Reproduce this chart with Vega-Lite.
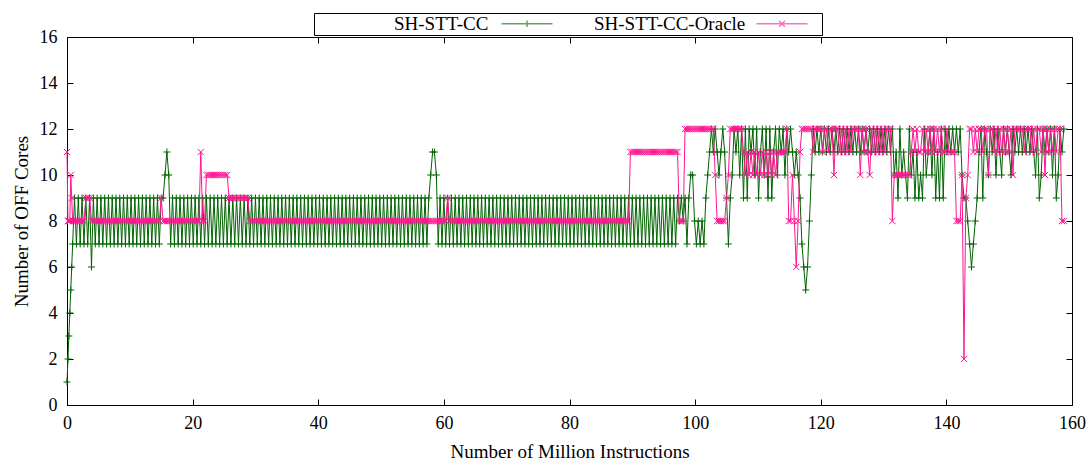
{
"$schema":"https://vega.github.io/schema/vega-lite/v6.json",
"width":1005,"height":368,
"autosize":{"type":"none"},
"padding":{"left":67,"top":37,"right":17,"bottom":56},
"config":{
 "view":{"stroke":"#000","strokeWidth":1},
 "font":"Liberation Serif",
 "axis":{"domain":false,"grid":false,"tickColor":"#000","tickSize":-6,"tickWidth":1,"labelColor":"#000","labelFont":"Liberation Serif","labelFontSize":18,"titleFont":"Liberation Serif","titleFontSize":19,"titleFontWeight":"normal","titleColor":"#000","labelFlush":false,"labelOverlap":false}
},
"data":{"values":[
{"x":0,"g":1,"p":11},{"x":0.15,"g":2,"p":8},{"x":0.3,"g":3,"p":8},{"x":0.45,"g":4,"p":8},{"x":0.6,"g":5,"p":10},{"x":0.75,"g":6,"p":9},{"x":0.9,"g":7,"p":8},{"x":1.05,"g":8,"p":8},{"x":1.2,"g":9,"p":8},{"x":1.5,"g":7,"p":8},{"x":1.8,"g":9,"p":8},{"x":2.1,"g":7,"p":8},{"x":2.4,"g":9,"p":8},{"x":2.7,"g":7,"p":8},
{"x":3,"g":9,"p":9},{"x":3.3,"g":7,"p":9},{"x":3.6,"g":9,"p":9},{"x":3.9,"g":6,"p":8},{"x":4.2,"g":9,"p":8},{"x":4.5,"g":7,"p":8},{"x":4.8,"g":9,"p":8},{"x":5.1,"g":7,"p":8},{"x":5.4,"g":9,"p":8},{"x":5.7,"g":7,"p":8},
{"x":6,"g":9,"p":8},{"x":6.3,"g":7,"p":8},{"x":6.6,"g":9,"p":8},{"x":6.9,"g":7,"p":8},{"x":7.2,"g":9,"p":8},{"x":7.5,"g":7,"p":8},{"x":7.8,"g":9,"p":8},{"x":8.1,"g":7,"p":8},{"x":8.4,"g":9,"p":8},{"x":8.7,"g":7,"p":8},
{"x":9,"g":9,"p":8},{"x":9.3,"g":7,"p":8},{"x":9.6,"g":9,"p":8},{"x":9.9,"g":7,"p":8},{"x":10.2,"g":9,"p":8},{"x":10.5,"g":7,"p":8},{"x":10.8,"g":9,"p":8},{"x":11.1,"g":7,"p":8},{"x":11.4,"g":9,"p":8},{"x":11.7,"g":7,"p":8},
{"x":12,"g":9,"p":8},{"x":12.3,"g":7,"p":8},{"x":12.6,"g":9,"p":8},{"x":12.9,"g":7,"p":8},{"x":13.2,"g":9,"p":8},{"x":13.5,"g":7,"p":8},{"x":13.8,"g":9,"p":8},{"x":14.1,"g":7,"p":8},{"x":14.4,"g":9,"p":8},{"x":14.7,"g":7,"p":8},
{"x":15,"g":9,"p":9},{"x":15.3,"g":9,"p":8},{"x":15.6,"g":10,"p":8},{"x":15.9,"g":11,"p":8},{"x":16.2,"g":10,"p":8},{"x":16.5,"g":7,"p":8},{"x":16.8,"g":9,"p":8},{"x":17.1,"g":7,"p":8},{"x":17.4,"g":9,"p":8},{"x":17.7,"g":7,"p":8},
{"x":18,"g":9,"p":8},{"x":18.3,"g":7,"p":8},{"x":18.6,"g":9,"p":8},{"x":18.9,"g":7,"p":8},{"x":19.2,"g":9,"p":8},{"x":19.5,"g":7,"p":8},{"x":19.8,"g":9,"p":8},{"x":20.1,"g":7,"p":8},{"x":20.4,"g":9,"p":8},{"x":20.7,"g":7,"p":8},
{"x":21,"g":9,"p":8},{"x":21.3,"g":7,"p":11},{"x":21.6,"g":9,"p":8},{"x":21.9,"g":7,"p":8},{"x":22.2,"g":9,"p":10},{"x":22.5,"g":7,"p":10},{"x":22.8,"g":9,"p":10},{"x":23.1,"g":7,"p":10},{"x":23.4,"g":9,"p":10},{"x":23.7,"g":7,"p":10},
{"x":24,"g":9,"p":10},{"x":24.3,"g":7,"p":10},{"x":24.6,"g":9,"p":10},{"x":24.9,"g":7,"p":10},{"x":25.2,"g":9,"p":10},{"x":25.5,"g":7,"p":10},{"x":25.8,"g":9,"p":9},{"x":26.1,"g":7,"p":9},{"x":26.4,"g":9,"p":9},{"x":26.7,"g":7,"p":9},
{"x":27,"g":9,"p":9},{"x":27.3,"g":7,"p":9},{"x":27.6,"g":9,"p":9},{"x":27.9,"g":7,"p":9},{"x":28.2,"g":9,"p":9},{"x":28.5,"g":7,"p":9},{"x":28.8,"g":9,"p":9},{"x":29.1,"g":7,"p":8},{"x":29.4,"g":9,"p":8},{"x":29.7,"g":7,"p":8},
{"x":30,"g":9,"p":8},{"x":30.3,"g":7,"p":8},{"x":30.6,"g":9,"p":8},{"x":30.9,"g":7,"p":8},{"x":31.2,"g":9,"p":8},{"x":31.5,"g":7,"p":8},{"x":31.8,"g":9,"p":8},{"x":32.1,"g":7,"p":8},{"x":32.4,"g":9,"p":8},{"x":32.7,"g":7,"p":8},
{"x":33,"g":9,"p":8},{"x":33.3,"g":7,"p":8},{"x":33.6,"g":9,"p":8},{"x":33.9,"g":7,"p":8},{"x":34.2,"g":9,"p":8},{"x":34.5,"g":7,"p":8},{"x":34.8,"g":9,"p":8},{"x":35.1,"g":7,"p":8},{"x":35.4,"g":9,"p":8},{"x":35.7,"g":7,"p":8},
{"x":36,"g":9,"p":8},{"x":36.3,"g":7,"p":8},{"x":36.6,"g":9,"p":8},{"x":36.9,"g":7,"p":8},{"x":37.2,"g":9,"p":8},{"x":37.5,"g":7,"p":8},{"x":37.8,"g":9,"p":8},{"x":38.1,"g":7,"p":8},{"x":38.4,"g":9,"p":8},{"x":38.7,"g":7,"p":8},
{"x":39,"g":9,"p":8},{"x":39.3,"g":7,"p":8},{"x":39.6,"g":9,"p":8},{"x":39.9,"g":7,"p":8},{"x":40.2,"g":9,"p":8},{"x":40.5,"g":7,"p":8},{"x":40.8,"g":9,"p":8},{"x":41.1,"g":7,"p":8},{"x":41.4,"g":9,"p":8},{"x":41.7,"g":7,"p":8},
{"x":42,"g":9,"p":8},{"x":42.3,"g":7,"p":8},{"x":42.6,"g":9,"p":8},{"x":42.9,"g":7,"p":8},{"x":43.2,"g":9,"p":8},{"x":43.5,"g":7,"p":8},{"x":43.8,"g":9,"p":8},{"x":44.1,"g":7,"p":8},{"x":44.4,"g":9,"p":8},{"x":44.7,"g":7,"p":8},
{"x":45,"g":9,"p":8},{"x":45.3,"g":7,"p":8},{"x":45.6,"g":9,"p":8},{"x":45.9,"g":7,"p":8},{"x":46.2,"g":9,"p":8},{"x":46.5,"g":7,"p":8},{"x":46.8,"g":9,"p":8},{"x":47.1,"g":7,"p":8},{"x":47.4,"g":9,"p":8},{"x":47.7,"g":7,"p":8},
{"x":48,"g":9,"p":8},{"x":48.3,"g":7,"p":8},{"x":48.6,"g":9,"p":8},{"x":48.9,"g":7,"p":8},{"x":49.2,"g":9,"p":8},{"x":49.5,"g":7,"p":8},{"x":49.8,"g":9,"p":8},{"x":50.1,"g":7,"p":8},{"x":50.4,"g":9,"p":8},{"x":50.7,"g":7,"p":8},
{"x":51,"g":9,"p":8},{"x":51.3,"g":7,"p":8},{"x":51.6,"g":9,"p":8},{"x":51.9,"g":7,"p":8},{"x":52.2,"g":9,"p":8},{"x":52.5,"g":7,"p":8},{"x":52.8,"g":9,"p":8},{"x":53.1,"g":7,"p":8},{"x":53.4,"g":9,"p":8},{"x":53.7,"g":7,"p":8},
{"x":54,"g":9,"p":8},{"x":54.3,"g":7,"p":8},{"x":54.6,"g":9,"p":8},{"x":54.9,"g":7,"p":8},{"x":55.2,"g":9,"p":8},{"x":55.5,"g":7,"p":8},{"x":55.8,"g":9,"p":8},{"x":56.1,"g":7,"p":8},{"x":56.4,"g":9,"p":8},{"x":56.7,"g":7,"p":8},
{"x":57,"g":9,"p":8},{"x":57.3,"g":7,"p":8},{"x":57.6,"g":9,"p":8},{"x":57.9,"g":10,"p":8},{"x":58.2,"g":11,"p":8},{"x":58.5,"g":11,"p":8},{"x":58.8,"g":10,"p":8},{"x":59.1,"g":7,"p":8},{"x":59.4,"g":9,"p":8},{"x":59.7,"g":7,"p":8},
{"x":60,"g":9,"p":8},{"x":60.3,"g":7,"p":8},{"x":60.6,"g":9,"p":9},{"x":60.9,"g":7,"p":8},{"x":61.2,"g":9,"p":8},{"x":61.5,"g":7,"p":8},{"x":61.8,"g":9,"p":8},{"x":62.1,"g":7,"p":8},{"x":62.4,"g":9,"p":8},{"x":62.7,"g":7,"p":8},
{"x":63,"g":9,"p":8},{"x":63.3,"g":7,"p":8},{"x":63.6,"g":9,"p":8},{"x":63.9,"g":7,"p":8},{"x":64.2,"g":9,"p":8},{"x":64.5,"g":7,"p":8},{"x":64.8,"g":9,"p":8},{"x":65.1,"g":7,"p":8},{"x":65.4,"g":9,"p":8},{"x":65.7,"g":7,"p":8},
{"x":66,"g":9,"p":8},{"x":66.3,"g":7,"p":8},{"x":66.6,"g":9,"p":8},{"x":66.9,"g":7,"p":8},{"x":67.2,"g":9,"p":8},{"x":67.5,"g":7,"p":8},{"x":67.8,"g":9,"p":8},{"x":68.1,"g":7,"p":8},{"x":68.4,"g":9,"p":8},{"x":68.7,"g":7,"p":8},
{"x":69,"g":9,"p":8},{"x":69.3,"g":7,"p":8},{"x":69.6,"g":9,"p":8},{"x":69.9,"g":7,"p":8},{"x":70.2,"g":9,"p":8},{"x":70.5,"g":7,"p":8},{"x":70.8,"g":9,"p":8},{"x":71.1,"g":7,"p":8},{"x":71.4,"g":9,"p":8},{"x":71.7,"g":7,"p":8},
{"x":72,"g":9,"p":8},{"x":72.3,"g":7,"p":8},{"x":72.6,"g":9,"p":8},{"x":72.9,"g":7,"p":8},{"x":73.2,"g":9,"p":8},{"x":73.5,"g":7,"p":8},{"x":73.8,"g":9,"p":8},{"x":74.1,"g":7,"p":8},{"x":74.4,"g":9,"p":8},{"x":74.7,"g":7,"p":8},
{"x":75,"g":9,"p":8},{"x":75.3,"g":7,"p":8},{"x":75.6,"g":9,"p":8},{"x":75.9,"g":7,"p":8},{"x":76.2,"g":9,"p":8},{"x":76.5,"g":7,"p":8},{"x":76.8,"g":9,"p":8},{"x":77.1,"g":7,"p":8},{"x":77.4,"g":9,"p":8},{"x":77.7,"g":7,"p":8},
{"x":78,"g":9,"p":8},{"x":78.3,"g":7,"p":8},{"x":78.6,"g":9,"p":8},{"x":78.9,"g":7,"p":8},{"x":79.2,"g":9,"p":8},{"x":79.5,"g":7,"p":8},{"x":79.8,"g":9,"p":8},{"x":80.1,"g":7,"p":8},{"x":80.4,"g":9,"p":8},{"x":80.7,"g":7,"p":8},
{"x":81,"g":9,"p":8},{"x":81.3,"g":7,"p":8},{"x":81.6,"g":9,"p":8},{"x":81.9,"g":7,"p":8},{"x":82.2,"g":9,"p":8},{"x":82.5,"g":7,"p":8},{"x":82.8,"g":9,"p":8},{"x":83.1,"g":7,"p":8},{"x":83.4,"g":9,"p":8},{"x":83.7,"g":7,"p":8},
{"x":84,"g":9,"p":8},{"x":84.3,"g":7,"p":8},{"x":84.6,"g":9,"p":8},{"x":84.9,"g":7,"p":8},{"x":85.2,"g":9,"p":8},{"x":85.5,"g":7,"p":8},{"x":85.8,"g":9,"p":8},{"x":86.1,"g":7,"p":8},{"x":86.4,"g":9,"p":8},{"x":86.7,"g":7,"p":8},
{"x":87,"g":9,"p":8},{"x":87.3,"g":7,"p":8},{"x":87.6,"g":9,"p":8},{"x":87.9,"g":7,"p":8},{"x":88.2,"g":9,"p":8},{"x":88.5,"g":7,"p":8},{"x":88.8,"g":9,"p":8},{"x":89.1,"g":7,"p":8},{"x":89.4,"g":9,"p":8},{"x":89.7,"g":7,"p":11},
{"x":90,"g":9,"p":11},{"x":90.3,"g":7,"p":11},{"x":90.6,"g":9,"p":11},{"x":90.9,"g":7,"p":11},{"x":91.2,"g":9,"p":11},{"x":91.5,"g":7,"p":11},{"x":91.8,"g":9,"p":11},{"x":92.1,"g":7,"p":11},{"x":92.4,"g":9,"p":11},{"x":92.7,"g":7,"p":11},
{"x":93,"g":9,"p":11},{"x":93.3,"g":7,"p":11},{"x":93.6,"g":9,"p":11},{"x":93.9,"g":7,"p":11},{"x":94.2,"g":9,"p":11},{"x":94.5,"g":7,"p":11},{"x":94.8,"g":9,"p":11},{"x":95.1,"g":7,"p":11},{"x":95.4,"g":9,"p":11},{"x":95.7,"g":7,"p":11},
{"x":96,"g":9,"p":11},{"x":96.3,"g":7,"p":11},{"x":96.6,"g":9,"p":11},{"x":96.9,"g":7,"p":11},{"x":97.2,"g":9,"p":11},{"x":97.5,"g":8,"p":8},{"x":97.8,"g":9,"p":8},{"x":98.1,"g":8,"p":8},{"x":98.4,"g":9,"p":12},{"x":98.7,"g":7,"p":12},
{"x":99,"g":9,"p":12},{"x":99.3,"g":10,"p":12},{"x":99.6,"g":10,"p":12},{"x":99.9,"g":8,"p":12},{"x":100.2,"g":7,"p":12},{"x":100.5,"g":8,"p":12},{"x":100.8,"g":7,"p":12},{"x":101.1,"g":8,"p":12},{"x":101.4,"g":7,"p":12},{"x":101.7,"g":9,"p":12},
{"x":102,"g":10,"p":12},{"x":102.3,"g":11,"p":12},{"x":102.6,"g":12,"p":12},{"x":102.9,"g":11,"p":12},{"x":103.2,"g":12,"p":10},{"x":103.5,"g":11,"p":8},{"x":103.8,"g":10,"p":8},{"x":104.1,"g":11,"p":8},{"x":104.4,"g":12,"p":8},{"x":104.7,"g":11,"p":8},
{"x":105,"g":9,"p":9},{"x":105.3,"g":7,"p":10},{"x":105.6,"g":9,"p":12},{"x":105.9,"g":10,"p":12},{"x":106.2,"g":12,"p":12},{"x":106.5,"g":11,"p":12},{"x":106.8,"g":12,"p":12},{"x":107.1,"g":10,"p":12},{"x":107.4,"g":12,"p":12},{"x":107.7,"g":9,"p":11},
{"x":108,"g":12,"p":10},{"x":108.3,"g":9,"p":11},{"x":108.6,"g":12,"p":10},{"x":108.9,"g":11,"p":11},{"x":109.2,"g":12,"p":10},{"x":109.5,"g":10,"p":11},{"x":109.8,"g":12,"p":10},{"x":110.1,"g":9,"p":11},{"x":110.4,"g":11,"p":10},{"x":110.7,"g":12,"p":11},
{"x":111,"g":10,"p":10},{"x":111.3,"g":12,"p":11},{"x":111.6,"g":9,"p":10},{"x":111.9,"g":12,"p":11},{"x":112.2,"g":9,"p":10},{"x":112.5,"g":11,"p":11},{"x":112.8,"g":12,"p":10},{"x":113.1,"g":10,"p":11},{"x":113.4,"g":12,"p":11},{"x":113.7,"g":11,"p":11},
{"x":114,"g":12,"p":11},{"x":114.3,"g":10,"p":11},{"x":114.6,"g":12,"p":12},{"x":114.9,"g":11,"p":8},{"x":115.2,"g":12,"p":8},{"x":115.5,"g":11,"p":10},{"x":115.8,"g":10,"p":8},{"x":116.1,"g":11,"p":6},{"x":116.4,"g":10,"p":8},{"x":116.7,"g":9,"p":11},
{"x":117,"g":7,"p":12},{"x":117.3,"g":6,"p":12},{"x":117.6,"g":5,"p":12},{"x":117.9,"g":6,"p":12},{"x":118.2,"g":8,"p":12},{"x":118.5,"g":10,"p":12},{"x":118.8,"g":12,"p":11},{"x":119.1,"g":11,"p":12},{"x":119.4,"g":12,"p":12},{"x":119.7,"g":11,"p":12},
{"x":120,"g":12,"p":12},{"x":120.3,"g":11,"p":11},{"x":120.6,"g":12,"p":12},{"x":120.9,"g":11,"p":12},{"x":121.2,"g":12,"p":11},{"x":121.5,"g":11,"p":12},{"x":121.8,"g":12,"p":12},{"x":122.1,"g":11,"p":10},{"x":122.4,"g":12,"p":12},{"x":122.7,"g":11,"p":12},
{"x":123,"g":12,"p":11},{"x":123.3,"g":11,"p":12},{"x":123.6,"g":12,"p":11},{"x":123.9,"g":11,"p":12},{"x":124.2,"g":12,"p":11},{"x":124.5,"g":11,"p":12},{"x":124.8,"g":12,"p":11},{"x":125.1,"g":11,"p":12},{"x":125.4,"g":12,"p":12},{"x":125.7,"g":11,"p":12},
{"x":126,"g":12,"p":12},{"x":126.3,"g":11,"p":10},{"x":126.6,"g":12,"p":12},{"x":126.9,"g":11,"p":11},{"x":127.2,"g":12,"p":12},{"x":127.5,"g":11,"p":11},{"x":127.8,"g":12,"p":10},{"x":128.1,"g":11,"p":12},{"x":128.4,"g":12,"p":11},{"x":128.7,"g":11,"p":12},
{"x":129,"g":12,"p":11},{"x":129.3,"g":11,"p":12},{"x":129.6,"g":12,"p":11},{"x":129.9,"g":11,"p":12},{"x":130.2,"g":12,"p":11},{"x":130.5,"g":11,"p":12},{"x":130.8,"g":12,"p":12},{"x":131.1,"g":11,"p":12},{"x":131.4,"g":12,"p":8},{"x":131.7,"g":10,"p":10},
{"x":132,"g":11,"p":10},{"x":132.3,"g":9,"p":10},{"x":132.6,"g":12,"p":10},{"x":132.9,"g":10,"p":10},{"x":133.2,"g":11,"p":10},{"x":133.5,"g":10,"p":10},{"x":133.8,"g":9,"p":10},{"x":134.1,"g":12,"p":10},{"x":134.4,"g":10,"p":11},{"x":134.7,"g":11,"p":12},
{"x":135,"g":9,"p":11},{"x":135.3,"g":11,"p":12},{"x":135.6,"g":9,"p":11},{"x":135.9,"g":10,"p":11},{"x":136.2,"g":9,"p":12},{"x":136.5,"g":12,"p":11},{"x":136.8,"g":10,"p":12},{"x":137.1,"g":11,"p":11},{"x":137.4,"g":12,"p":12},{"x":137.7,"g":10,"p":11},
{"x":138,"g":12,"p":12},{"x":138.3,"g":9,"p":11},{"x":138.6,"g":11,"p":12},{"x":138.9,"g":9,"p":11},{"x":139.2,"g":12,"p":12},{"x":139.5,"g":9,"p":11},{"x":139.8,"g":12,"p":11},{"x":140.1,"g":11,"p":12},{"x":140.4,"g":12,"p":11},{"x":140.7,"g":11,"p":11},
{"x":141,"g":12,"p":11},{"x":141.3,"g":11,"p":11},{"x":141.6,"g":12,"p":8},{"x":141.9,"g":11,"p":8},{"x":142.2,"g":12,"p":8},{"x":142.5,"g":10,"p":10},{"x":142.8,"g":9,"p":2},{"x":143.1,"g":9,"p":9},{"x":143.4,"g":8,"p":10},{"x":143.7,"g":7,"p":12},
{"x":144,"g":6,"p":12},{"x":144.3,"g":7,"p":11},{"x":144.6,"g":8,"p":12},{"x":144.9,"g":9,"p":11},{"x":145.2,"g":11,"p":12},{"x":145.5,"g":12,"p":12},{"x":145.8,"g":9,"p":11},{"x":146.1,"g":12,"p":12},{"x":146.4,"g":11,"p":12},{"x":146.7,"g":10,"p":10},
{"x":147,"g":12,"p":12},{"x":147.3,"g":11,"p":12},{"x":147.6,"g":12,"p":11},{"x":147.9,"g":10,"p":12},{"x":148.2,"g":12,"p":11},{"x":148.5,"g":11,"p":12},{"x":148.8,"g":10,"p":11},{"x":149.1,"g":12,"p":12},{"x":149.4,"g":11,"p":11},{"x":149.7,"g":12,"p":12},
{"x":150,"g":11,"p":11},{"x":150.3,"g":10,"p":12},{"x":150.6,"g":12,"p":10},{"x":150.9,"g":11,"p":12},{"x":151.2,"g":12,"p":12},{"x":151.5,"g":11,"p":12},{"x":151.8,"g":12,"p":12},{"x":152.1,"g":11,"p":12},{"x":152.4,"g":12,"p":11},{"x":152.7,"g":11,"p":12},
{"x":153,"g":12,"p":12},{"x":153.3,"g":11,"p":12},{"x":153.6,"g":12,"p":11},{"x":153.9,"g":11,"p":12},{"x":154.2,"g":10,"p":11},{"x":154.5,"g":12,"p":12},{"x":154.8,"g":9,"p":12},{"x":155.1,"g":10,"p":11},{"x":155.4,"g":12,"p":12},{"x":155.7,"g":11,"p":10},
{"x":156,"g":12,"p":12},{"x":156.3,"g":11,"p":11},{"x":156.6,"g":12,"p":12},{"x":156.9,"g":10,"p":11},{"x":157.2,"g":12,"p":12},{"x":157.5,"g":9,"p":11},{"x":157.8,"g":10,"p":12},{"x":158.1,"g":12,"p":12},{"x":158.4,"g":11,"p":8},{"x":158.7,"g":12,"p":8}
]},
"transform":[{"fold":["g","p"],"as":["key","y"]}],
"encoding":{
 "color":{"field":"key","type":"nominal","scale":{"domain":["g","p"],"range":["#006400","#ff1493"]},
  "legend":{"orient":"none","legendX":247,"legendY":-24,"direction":"horizontal",
   "title":"SH-STT-","titleOrient":"left","titleOpacity":0,"titleFontSize":19,"titleFont":"Liberation Serif","titlePadding":6,
   "strokeColor":"#000","padding":1,"columnPadding":38,"symbolSize":100,
   "labelFont":"Liberation Serif","labelFontSize":19,"labelColor":"#000","labelLimit":400,
   "labelExpr":"datum.value == 'g' ? 'SH-STT-CC' : 'SH-STT-CC-Oracle'",
   "encode":{
    "symbols":{"update":{
      "shape":{"signal":"datum.value == 'g' ? 'M-5.1,0L5.1,0M0,-0.65L0,0.65' : 'M-5.1,0L5.1,0M-0.6,-0.6L0.6,0.6M-0.6,0.6L0.6,-0.6M7.2,0'"},
      "size":{"value":100},
      "x":{"signal":"datum.value == 'g' ? 133 : 188"},
      "strokeWidth":{"value":1.5},
      "fill":{"value":"transparent"},
      "stroke":{"signal":"datum.value == 'g' ? '#006400' : '#ff1493'"},
      "opacity":{"value":0.6}}},
    "labels":{"update":{"x":{"value":0}}}
   }}}
},
"resolve":{"axis":{"x":"independent","y":"independent"}},
"layer":[
 {"transform":[{"filter":"datum.key == 'g'"}],
  "mark":{"type":"line","strokeWidth":1},
  "encoding":{
   "x":{"field":"x","type":"quantitative","scale":{"domain":[0,160],"nice":false,"zero":false},
     "axis":{"orient":"bottom","values":[0,20,40,60,80,100,120,140,160],"labelPadding":15,"title":"Number of Million Instructions","titlePadding":10}},
   "y":{"field":"y","type":"quantitative","scale":{"domain":[0,16],"nice":false},
     "axis":{"orient":"left","values":[0,2,4,6,8,10,12,14,16],"labelPadding":16,"title":"Number of OFF Cores","titlePadding":8}}}},
 {"transform":[{"filter":"datum.key == 'g'"}],
  "mark":{"type":"point","shape":"M-1,0L1,0M0,-1L0,1","filled":false,"strokeWidth":1,"size":48,"opacity":1},
  "encoding":{
   "x":{"field":"x","type":"quantitative","scale":{"domain":[0,160],"nice":false,"zero":false},
     "axis":{"orient":"top","values":[0,20,40,60,80,100,120,140,160],"labels":false,"title":null}},
   "y":{"field":"y","type":"quantitative","scale":{"domain":[0,16],"nice":false},
     "axis":{"orient":"right","values":[0,2,4,6,8,10,12,14,16],"labels":false,"title":null}}}},
 {"transform":[{"filter":"datum.key == 'p'"}],
  "mark":{"type":"line","strokeWidth":1},
  "encoding":{
   "x":{"field":"x","type":"quantitative","scale":{"domain":[0,160],"nice":false,"zero":false},"axis":null},
   "y":{"field":"y","type":"quantitative","scale":{"domain":[0,16],"nice":false},"axis":null}}},
 {"transform":[{"filter":"datum.key == 'p'"}],
  "mark":{"type":"point","shape":"M-1,-1L1,1M-1,1L1,-1","filled":false,"strokeWidth":1,"size":40,"opacity":1},
  "encoding":{
   "x":{"field":"x","type":"quantitative","scale":{"domain":[0,160],"nice":false,"zero":false},"axis":null},
   "y":{"field":"y","type":"quantitative","scale":{"domain":[0,16],"nice":false},"axis":null}}}
]
}
